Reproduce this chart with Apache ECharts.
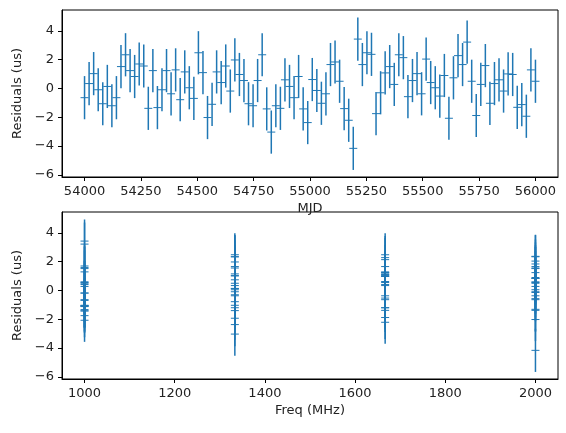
<!DOCTYPE html>
<html><head><meta charset="utf-8">
<script src="https://cdn.jsdelivr.net/npm/echarts@6/dist/echarts.min.js"></script>
<style>html,body{margin:0;padding:0;background:#fff}#c{width:566px;height:433px}</style>
</head><body><div id="c"></div>
<script>
const residuals = [-0.64,0.34,1.03,-0.09,-1.06,0.14,-1.2,-0.64,1.52,2.34,1.24,0.83,1.7,1.56,-1.38,1.24,-1.33,-0.09,1.24,-0.37,1.29,-0.78,1.15,0.05,-0.69,2.48,1.1,-2.02,-1.1,1.15,0.41,1.56,-0.18,1.98,0.97,0.55,-1.06,-1.2,0.55,2.34,-1.42,-3.03,-1.2,-1.38,0.6,0.14,-0.64,0.83,-1.42,-2.37,0.62,-0.14,-1.03,-0.37,1.66,1.84,0.5,-1.4,-2.21,-4.16,3.43,1.66,2.48,2.37,-1.75,-0.3,1.08,1.52,0.28,2.34,2.14,-0.57,0.55,1.03,-0.37,2.04,0.41,0.05,-0.53,0.9,-2.07,0.74,2.28,1.66,3.22,0.5,-1.88,0.28,1.59,-1.03,0.34,0.6,-0.18,1.01,0.97,-1.31,-1.12,-1.93,1.29,0.5];
const mjdStart = 54000, mjdEnd = 56000;
const freqs = [1000, 1333.33, 1666.67, 2000];
const ERR = 1.5;
const yTicks = [-6, -4, -2, 0, 2, 4];
const mjdTicks = [54000, 54250, 54500, 54750, 55000, 55250, 55500, 55750, 56000];
const freqTicks = [1000, 1200, 1400, 1600, 1800, 2000];
const n = residuals.length;
const mjd = residuals.map((_, i) => mjdStart + i * (mjdEnd - mjdStart) / (n - 1));
const freqOf = residuals.map((_, i) => freqs[i % freqs.length]);

const C = '#1f77b4';
const font = 'DejaVu Sans';
const fmt = v => String(v).replace('-', '\u2212');
function errItem(params, api) {
  const x = api.value(0), y = api.value(1), e = api.value(2);
  const p = api.coord([x, y]), hi = api.coord([x, y + e]), lo = api.coord([x, y - e]);
  return {type: 'group', children: [
    {type: 'line', shape: {x1: p[0], y1: hi[1], x2: p[0], y2: lo[1]}, style: {stroke: C, lineWidth: 1.5}},
    {type: 'line', shape: {x1: p[0] - 4, y1: p[1], x2: p[0] + 4, y2: p[1]}, style: {stroke: C, lineWidth: 1}}
  ]};
}
function ax(extra, ticks) {
  return Object.assign({
    type: 'value',
    axisLine: {onZero: false, lineStyle: {color: '#000', width: 1}},
    axisTick: {length: 4, lineStyle: {color: '#000'}, customValues: ticks},
    axisLabel: {color: '#222', fontFamily: font, fontSize: 13, formatter: fmt, customValues: ticks},
    splitLine: {show: false},
    nameLocation: 'middle',
    nameTextStyle: {color: '#222', fontFamily: font, fontSize: 13}
  }, extra);
}
const yAx = gi => ax({gridIndex: gi, min: -6.15, max: 5.45, name: 'Residuals (us)', nameGap: 32, nameRotate: 90}, yTicks);
const chart = echarts.init(document.getElementById('c'), null, {renderer: 'canvas'});
chart.setOption({
  animation: false,
  grid: [
    {left: 62, right: 8, top: 10, height: 167, show: true, borderColor: '#000', borderWidth: 1},
    {left: 62, right: 8, top: 212, height: 167, show: true, borderColor: '#000', borderWidth: 1}
  ],
  xAxis: [
    ax({gridIndex: 0, min: 53900, max: 56100, name: 'MJD', nameGap: 25}, mjdTicks),
    ax({gridIndex: 1, min: 950, max: 2050, name: 'Freq (MHz)', nameGap: 25}, freqTicks)
  ],
  yAxis: [yAx(0), yAx(1)],
  series: [
    {type: 'custom', xAxisIndex: 0, yAxisIndex: 0, renderItem: errItem,
      data: residuals.map((r, i) => [mjd[i], r, ERR]), clip: true},
    {type: 'custom', xAxisIndex: 1, yAxisIndex: 1, renderItem: errItem,
      data: residuals.map((r, i) => [freqOf[i], r, ERR]), clip: true}
  ]
});
</script></body></html>
